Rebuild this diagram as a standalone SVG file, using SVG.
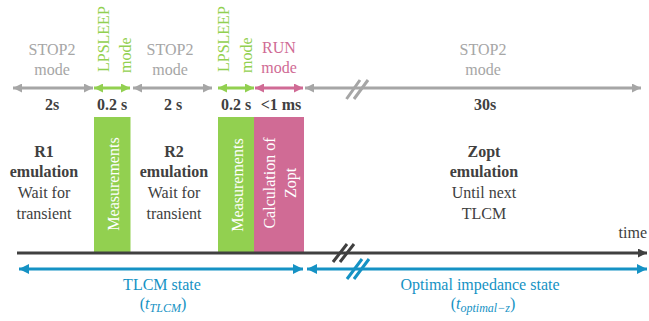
<svg xmlns="http://www.w3.org/2000/svg" width="649" height="321" viewBox="0 0 649 321" font-family="'Liberation Serif', 'Times New Roman', serif">
<style>
text{font-family:"Liberation Serif","Times New Roman",serif;font-size:16px}
.g{fill:#a6a6a6}
.gr{fill:#92d050}
.pk{fill:#d06b95}
.b{fill:#404040;font-weight:bold}
.n{fill:#404040}
.w{fill:#ffffff}
.bl{fill:#1592c4}
.c{text-anchor:middle}
</style>
<defs>
<marker id="ag" viewBox="0 0 10 10" refX="10" refY="5" markerWidth="10" markerHeight="9" markerUnits="userSpaceOnUse" orient="auto-start-reverse"><path d="M0,0L10,5L0,10z" fill="#a6a6a6"/></marker>
<marker id="agr" viewBox="0 0 10 10" refX="10" refY="5" markerWidth="10" markerHeight="9" markerUnits="userSpaceOnUse" orient="auto-start-reverse"><path d="M0,0L10,5L0,10z" fill="#92d050"/></marker>
<marker id="apk" viewBox="0 0 10 10" refX="10" refY="5" markerWidth="10" markerHeight="9" markerUnits="userSpaceOnUse" orient="auto-start-reverse"><path d="M0,0L10,5L0,10z" fill="#d06b95"/></marker>
<marker id="abl" viewBox="0 0 10 10" refX="10" refY="5" markerWidth="11" markerHeight="10" markerUnits="userSpaceOnUse" orient="auto-start-reverse"><path d="M0,0L10,5L0,10z" fill="#1592c4"/></marker>
<marker id="adk" viewBox="0 0 10 10" refX="10" refY="5" markerWidth="11" markerHeight="9" markerUnits="userSpaceOnUse" orient="auto"><path d="M0,0L10,5L0,10z" fill="#404040"/></marker>
</defs>

<g id="boxes">
<g id="meas1"><rect x="94" y="117" width="36.5" height="135" fill="#92d050"/>
<text class="w c" transform="translate(118.5,184) rotate(-90)">Measurements</text></g>
<g id="meas2"><rect x="218" y="117" width="36" height="135" fill="#92d050"/>
<text class="w c" transform="translate(242.5,185) rotate(-90)">Measurements</text></g>
<g id="calc"><rect x="254" y="117" width="50" height="135" fill="#d06b95"/>
<text class="w c" transform="translate(275,183) rotate(-90)">Calculation of</text>
<text class="w c" transform="translate(296,183) rotate(-90)">Zopt</text></g>
</g>

<g id="connectors">
<line x1="13" y1="88" x2="93" y2="88" stroke="#a6a6a6" stroke-width="3" marker-start="url(#ag)" marker-end="url(#ag)"/>
<line x1="94" y1="88" x2="130" y2="88" stroke="#92d050" stroke-width="3" marker-start="url(#agr)" marker-end="url(#agr)"/>
<line x1="133" y1="88" x2="212" y2="88" stroke="#a6a6a6" stroke-width="3" marker-start="url(#ag)" marker-end="url(#ag)"/>
<line x1="218" y1="88" x2="254" y2="88" stroke="#92d050" stroke-width="3" marker-start="url(#agr)" marker-end="url(#agr)"/>
<line x1="255" y1="88" x2="303" y2="88" stroke="#d06b95" stroke-width="3" marker-start="url(#apk)" marker-end="url(#apk)"/>
<line x1="305" y1="88" x2="641" y2="88" stroke="#a6a6a6" stroke-width="3" marker-start="url(#ag)" marker-end="url(#ag)"/>
<path d="M346.5,99L360,80M354,99L368,80" stroke="#a6a6a6" stroke-width="3"/>

<line x1="17" y1="253" x2="647" y2="253" stroke="#404040" stroke-width="3" marker-end="url(#adk)"/>
<path d="M333,262L347,244M340,262L354,244" stroke="#404040" stroke-width="3"/>

<line x1="19" y1="269" x2="303" y2="269" stroke="#1592c4" stroke-width="3" marker-start="url(#abl)" marker-end="url(#abl)"/>
<line x1="307" y1="269" x2="647" y2="269" stroke="#1592c4" stroke-width="3" marker-start="url(#abl)" marker-end="url(#abl)"/>
<path d="M347,279L362,259M354,279L369,259" stroke="#1592c4" stroke-width="3"/>
</g>

<g id="labels-top">
<text class="g c" x="52" y="55">STOP2</text><text class="g c" x="52" y="75">mode</text>
<text class="g c" x="170" y="55">STOP2</text><text class="g c" x="170" y="75">mode</text>
<text class="g c" x="483" y="55">STOP2</text><text class="g c" x="483" y="75">mode</text>
<text class="gr" transform="translate(109,72) rotate(-90)">LPSLEEP</text>
<text class="gr" transform="translate(131,73) rotate(-90)">mode</text>
<text class="gr" transform="translate(229,72) rotate(-90)">LPSLEEP</text>
<text class="gr" transform="translate(252,73) rotate(-90)">mode</text>
<text class="pk c" x="279" y="53">RUN</text><text class="pk c" x="279" y="73">mode</text>
<text class="b c" x="52" y="110">2s</text>
<text class="b c" x="112" y="110">0.2 s</text>
<text class="b c" x="173" y="110">2 s</text>
<text class="b c" x="236" y="110">0.2 s</text>
<text class="b c" x="281" y="110">&lt;1 ms</text>
<text class="b c" x="485" y="110">30s</text>
</g>

<g id="r1">
<text class="b c" x="44" y="157">R1</text>
<text class="b c" x="44" y="177">emulation</text>
<text class="n c" x="44" y="197.5">Wait for</text>
<text class="n c" x="44" y="218.5">transient</text>
</g>
<g id="r2">
<text class="b c" x="174" y="157">R2</text>
<text class="b c" x="174" y="177">emulation</text>
<text class="n c" x="174" y="197.5">Wait for</text>
<text class="n c" x="174" y="218.5">transient</text>
</g>
<g id="zopt">
<text class="b c" x="484" y="157">Zopt</text>
<text class="b c" x="484" y="177">emulation</text>
<text class="n c" x="484" y="197.5">Until next</text>
<text class="n c" x="484" y="218.5">TLCM</text>
</g>
<text class="n" x="647" y="238" text-anchor="end">time</text>

<g id="states">
<text class="bl c" x="162" y="290">TLCM state</text>
<text class="bl c" x="163" y="309">(<tspan font-style="italic">t</tspan><tspan font-style="italic" font-size="12" dy="2.5">TLCM</tspan><tspan dy="-2.5">)</tspan></text>
<text class="bl c" x="480" y="290">Optimal impedance state</text>
<text class="bl c" x="483" y="309">(<tspan font-style="italic">t</tspan><tspan font-style="italic" font-size="12" dy="2.5">optimal−z</tspan><tspan dy="-2.5">)</tspan></text>
</g>
</svg>
